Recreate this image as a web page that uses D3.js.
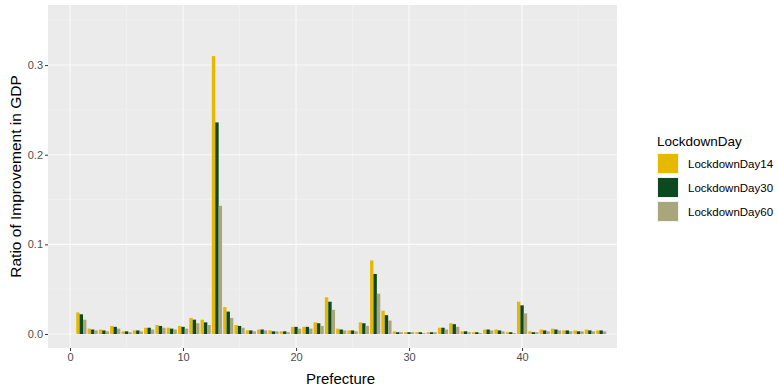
<!DOCTYPE html>
<html>
<head>
<meta charset="utf-8">
<script src="https://cdn.jsdelivr.net/npm/d3@7"></script>
<style>
  html, body { margin: 0; padding: 0; background: #ffffff; }
  svg { display: block; font-family: "Liberation Sans", Arial, Helvetica, sans-serif; }
</style>
</head>
<body>
<svg id="chart" width="778" height="388"></svg>
<script>
// Prefectures 1..47
const prefectures = d3.range(1, 48);

// Ratio of improvement in GDP for each lockdown length
const day14 = [0.024, 0.006, 0.005, 0.009, 0.003, 0.004, 0.007, 0.010, 0.007, 0.009,
               0.018, 0.016, 0.310, 0.030, 0.010, 0.004, 0.005, 0.004, 0.003, 0.008,
               0.008, 0.013, 0.041, 0.006, 0.004, 0.013, 0.082, 0.026, 0.003, 0.002,
               0.002, 0.002, 0.007, 0.012, 0.003, 0.002, 0.005, 0.005, 0.002, 0.036,
               0.003, 0.005, 0.006, 0.004, 0.004, 0.005, 0.004];
const day30 = [0.022, 0.005, 0.004, 0.008, 0.003, 0.004, 0.007, 0.009, 0.006, 0.008,
               0.016, 0.013, 0.236, 0.025, 0.009, 0.004, 0.005, 0.003, 0.003, 0.008,
               0.008, 0.012, 0.036, 0.005, 0.004, 0.012, 0.067, 0.021, 0.002, 0.002,
               0.002, 0.002, 0.007, 0.011, 0.003, 0.002, 0.005, 0.004, 0.002, 0.032,
               0.002, 0.004, 0.005, 0.004, 0.003, 0.004, 0.004];
const day60 = [0.016, 0.004, 0.003, 0.006, 0.002, 0.003, 0.005, 0.007, 0.005, 0.006,
               0.012, 0.010, 0.143, 0.018, 0.007, 0.003, 0.004, 0.003, 0.002, 0.006,
               0.006, 0.009, 0.027, 0.004, 0.003, 0.009, 0.045, 0.015, 0.002, 0.002,
               0.001, 0.002, 0.005, 0.008, 0.002, 0.001, 0.004, 0.003, 0.001, 0.023,
               0.002, 0.003, 0.004, 0.003, 0.003, 0.003, 0.003];

const seriesNames = ["LockdownDay14", "LockdownDay30", "LockdownDay60"];
const seriesColors = ["#E6B800", "#0B4A1E", "#A8A67A"];
const xTicks = [0, 10, 20, 30, 40];
const yTicks = [0.0, 0.1, 0.2, 0.3];

const seriesValues = [day14, day30, day60];

const svg = d3.select("#chart");
const panel = { left: 48, right: 617, top: 5, bottom: 348 };

const x = d3.scaleLinear().domain([-1.95, 48.4]).range([panel.left, panel.right]);
const y = d3.scaleLinear().domain([-0.0156, 0.367]).range([panel.bottom, panel.top]);

// Panel background
svg.append("rect")
  .attr("x", panel.left).attr("y", panel.top)
  .attr("width", panel.right - panel.left)
  .attr("height", panel.bottom - panel.top)
  .attr("fill", "#ebebeb");

// Minor grid lines
const xMinor = [5, 15, 25, 35, 45];
const yMinor = [0.05, 0.15, 0.25, 0.35];
const grid = svg.append("g");
grid.selectAll("line.xminor").data(xMinor).join("line")
  .attr("x1", d => x(d)).attr("x2", d => x(d))
  .attr("y1", panel.top).attr("y2", panel.bottom)
  .attr("stroke", "#f3f3f3").attr("stroke-width", 0.6);
grid.selectAll("line.yminor").data(yMinor).join("line")
  .attr("x1", panel.left).attr("x2", panel.right)
  .attr("y1", d => y(d)).attr("y2", d => y(d))
  .attr("stroke", "#f3f3f3").attr("stroke-width", 0.6);
// Major grid lines
grid.selectAll("line.xmajor").data(xTicks).join("line")
  .attr("x1", d => x(d)).attr("x2", d => x(d))
  .attr("y1", panel.top).attr("y2", panel.bottom)
  .attr("stroke", "#fafafa").attr("stroke-width", 1.1);
grid.selectAll("line.ymajor").data(yTicks).join("line")
  .attr("x1", panel.left).attr("x2", panel.right)
  .attr("y1", d => y(d)).attr("y2", d => y(d))
  .attr("stroke", "#fafafa").attr("stroke-width", 1.1);

// Dodged bars: total width 0.9, three bars per prefecture
const barW = 0.3;
const rows = [];
prefectures.forEach((p, i) => {
  seriesValues.forEach((vals, s) => {
    rows.push({ p, s, v: vals[i] });
  });
});
svg.append("g").selectAll("rect").data(rows).join("rect")
  .attr("x", d => x(d.p - 0.45 + d.s * barW))
  .attr("width", d => x(barW) - x(0))
  .attr("y", d => y(d.v))
  .attr("height", d => y(0) - y(d.v))
  .attr("fill", d => seriesColors[d.s]);

// Axes
const xAxis = d3.axisBottom(x).tickValues(xTicks).tickFormat(d3.format("d"))
  .tickSize(3).tickPadding(2);
const gx = svg.append("g").attr("transform", `translate(0,${panel.bottom})`).call(xAxis);
gx.select(".domain").remove();
gx.selectAll("line").attr("stroke", "#333333");
gx.selectAll("text").attr("fill", "#4d4d4d").attr("font-size", 11)
  .attr("font-family", "Liberation Sans, Arial, sans-serif");

const yAxis = d3.axisLeft(y).tickValues(yTicks).tickFormat(d3.format(".1f"))
  .tickSize(3).tickPadding(2);
const gy = svg.append("g").attr("transform", `translate(${panel.left},0)`).call(yAxis);
gy.select(".domain").remove();
gy.selectAll("line").attr("stroke", "#333333");
gy.selectAll("text").attr("fill", "#4d4d4d").attr("font-size", 11)
  .attr("font-family", "Liberation Sans, Arial, sans-serif");

// Axis titles
svg.append("text")
  .attr("x", (panel.left + panel.right) / 2 + 8).attr("y", 384)
  .attr("text-anchor", "middle").attr("font-size", 15).attr("fill", "#000")
  .text("Prefecture");
svg.append("text")
  .attr("transform", `translate(21,${(panel.top + panel.bottom) / 2}) rotate(-90)`)
  .attr("text-anchor", "middle").attr("font-size", 15.5).attr("fill", "#000")
  .text("Ratio of Improvement in GDP");

// Legend
const legend = svg.append("g").attr("transform", "translate(657,0)");
legend.append("text").attr("x", 0).attr("y", 146)
  .attr("font-size", 13.5).attr("fill", "#000").text("LockdownDay");
const items = legend.selectAll("g.item").data(seriesNames).join("g")
  .attr("transform", (d, i) => `translate(0,${153 + i * 24})`);
items.append("rect").attr("x", 0).attr("y", 0).attr("width", 22).attr("height", 21)
  .attr("fill", "#f2f2f2");
items.append("rect").attr("x", 1).attr("y", 1).attr("width", 20).attr("height", 19)
  .attr("fill", (d, i) => seriesColors[i]);
items.append("text").attr("x", 31).attr("y", 15)
  .attr("font-size", 11.5).attr("fill", "#000").text(d => d);
</script>
</body>
</html>
